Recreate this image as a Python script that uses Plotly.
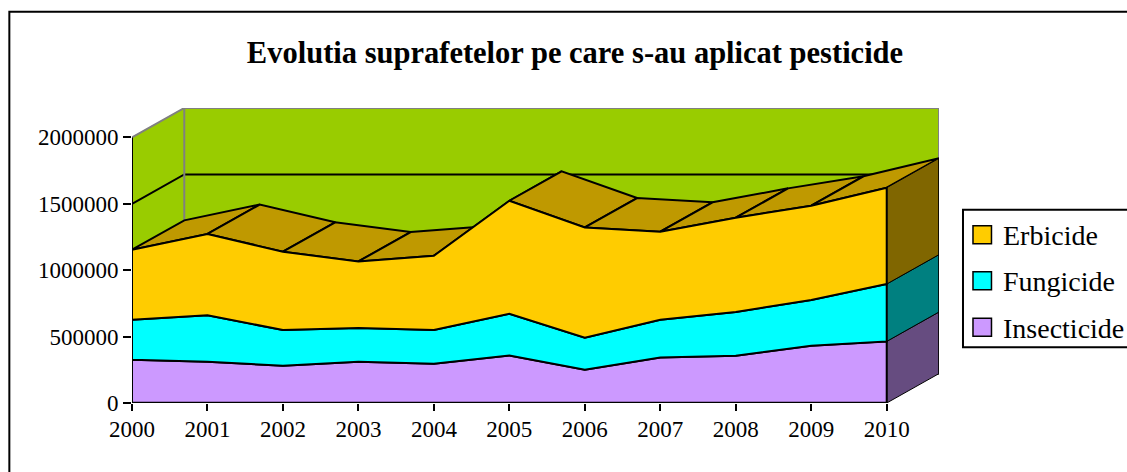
import plotly.graph_objects as go

years = [2000, 2001, 2002, 2003, 2004, 2005, 2006, 2007, 2008, 2009, 2010]
insecticide = [326000, 311000, 281000, 311000, 296000, 358000, 251000, 343000, 356000, 431000, 464000]
fungicide = [301000, 349000, 269000, 254000, 254000, 314000, 241000, 284000, 329000, 345000, 432000]
erbicide = [527000, 613000, 589000, 501000, 559000, 851000, 830000, 663000, 710000, 710000, 725000]
y_ticks = [0, 500000, 1000000, 1500000, 2000000]
title_text = "Evolutia suprafetelor pe care s-au aplicat pesticide"

# Layer definitions, bottom to top: name, values, front colour, side colour
layers = [
    ("Insecticide", insecticide, "#CC99FF", "#664C80"),
    ("Fungicide", fungicide, "#00FFFF", "#008080"),
    ("Erbicide", erbicide, "#FFCC00", "#806600"),
]
TOP_COLOR = "#BF9900"
WALL_COLOR = "#99CC00"
GREY = "#808080"
FONT = "Liberation Serif"

# Chart geometry (pixels in the 1127x472 page)
W, H = 1127, 472
LEFT, RIGHT, TOP, BASE = 131.7, 939.0, 108.3, 403.3
PX_PER_YEAR = 75.5
PX_PER_UNIT = 265.6 / 2000000
DX = (RIGHT - (LEFT + 10 * PX_PER_YEAR)) / PX_PER_YEAR   # depth offset in years
DY = 29.4 / PX_PER_UNIT                                   # depth offset in value units
x0, x1 = years[0], years[-1]
ymax = y_ticks[-1]


def px(x):
    return (x - LEFT) / (RIGHT - LEFT)


def py(y):
    return (BASE - y) / (BASE - TOP)


fig = go.Figure()


def poly(xs, ys, fill, line="black", lw=2):
    fig.add_trace(go.Scatter(
        x=xs, y=ys, mode="lines", fill="toself" if fill else None, fillcolor=fill,
        line=dict(color=line, width=lw), hoverinfo="skip", showlegend=False,
        cliponaxis=False))


def line(xs, ys, color="black", lw=2):
    poly(xs, ys, None, color, lw)


# Walls
poly([x0, x0 + DX, x0 + DX, x0, x0], [0, DY, ymax + DY, ymax, 0], WALL_COLOR, WALL_COLOR, 0.5)
poly([x0 + DX, x1 + DX, x1 + DX, x0 + DX, x0 + DX], [DY, DY, ymax + DY, ymax + DY, DY],
     WALL_COLOR, WALL_COLOR, 0.5)

# Gridlines
for v in y_ticks[:-1]:
    line([x0, x0 + DX, x1 + DX], [v, v + DY, v + DY])

# Wall edges
line([x0, x0 + DX, x1 + DX, x1 + DX], [ymax, ymax + DY, ymax + DY, DY], GREY, 2)
line([x0 + DX, x0 + DX], [DY, ymax + DY], GREY, 2)

# Stack
lower = [0] * len(years)
stacks = []
for name, vals, front, side in layers:
    upper = [a + b for a, b in zip(lower, vals)]
    stacks.append((name, lower, upper, front, side))
    lower = upper

# Top surface, strip by strip
top = stacks[-1][2]
for i in range(len(years) - 1):
    poly([years[i], years[i + 1], years[i + 1] + DX, years[i] + DX, years[i]],
         [top[i], top[i + 1], top[i + 1] + DY, top[i] + DY, top[i]], TOP_COLOR)

# Right side faces
for name, lo, up, front, side in stacks:
    poly([x1, x1 + DX, x1 + DX, x1, x1],
         [lo[-1], lo[-1] + DY, up[-1] + DY, up[-1], lo[-1]], side, "black", 1)

# Front faces
for name, lo, up, front, side in stacks:
    fig.add_trace(go.Scatter(
        x=years + years[::-1] + [years[0]], y=up + lo[::-1] + [up[0]], mode="lines",
        fill="toself", fillcolor=front, line=dict(color="black", width=2),
        name=name, hoverinfo="skip", showlegend=False, cliponaxis=False))

# Axis lines
line([x0, x0], [0, ymax], "black", 2)
line([x0, x1], [0, 0], "black", 2.5)
line([x1 + DX, x1 + DX], [top[-1] + DY, DY], "black", 1.5)

# Frame + legend (the source chart crops both at the picture edge)
shapes = [
    dict(type="rect", xref="paper", yref="paper", x0=px(9), x1=px(W + 20),
         y0=py(H + 20), y1=py(12), line=dict(color="black", width=2)),
    dict(type="rect", xref="paper", yref="paper", x0=px(963), x1=px(W + 20),
         y0=py(347.5), y1=py(210), line=dict(color="black", width=2)),
]
annotations = []
legend_rows = [(stacks[2], 235), (stacks[1], 281), (stacks[0], 327.5)]
for (name, lo, up, front, side), cy in legend_rows:
    shapes.append(dict(type="rect", xref="paper", yref="paper", x0=px(973), x1=px(991.5),
                       y0=py(cy + 9), y1=py(cy - 9), fillcolor=front,
                       line=dict(color="black", width=1.5)))
    annotations.append(dict(text=name, xref="paper", yref="paper", x=px(1002.5), y=py(cy + 1),
                            xanchor="left", yanchor="middle", showarrow=False,
                            font=dict(family=FONT, size=28, color="black"),
                            borderpad=0, align="left"))

fig.update_layout(
    width=W, height=H, margin=dict(l=LEFT, r=W - RIGHT, t=TOP, b=H - BASE, pad=0),
    paper_bgcolor="white", plot_bgcolor="white", showlegend=False,
    title=dict(text="<b>" + title_text + "</b>", xref="container", yref="container",
               x=575 / W, y=1 - 52 / H, xanchor="center", yanchor="middle",
               font=dict(family=FONT, size=30.5, color="black")),
    xaxis=dict(range=[x0, x1 + DX], tickvals=years, ticktext=[str(y) for y in years],
               ticks="outside", ticklen=7, tickwidth=2, tickcolor="black", showgrid=False,
               zeroline=False, showline=False, ticklabelstandoff=-2,
               tickfont=dict(family=FONT, size=23, color="black")),
    yaxis=dict(range=[0, ymax + DY], tickvals=y_ticks, ticktext=[str(v) for v in y_ticks],
               ticks="outside", ticklen=8, tickwidth=2, tickcolor="black", showgrid=False,
               zeroline=False, showline=False,
               tickfont=dict(family=FONT, size=23, color="black")),
    shapes=shapes, annotations=annotations,
)

fig.write_html("out.html", config={"displayModeBar": False},
               post_script="document.body.style.margin='0';document.body.style.overflow='hidden';")
